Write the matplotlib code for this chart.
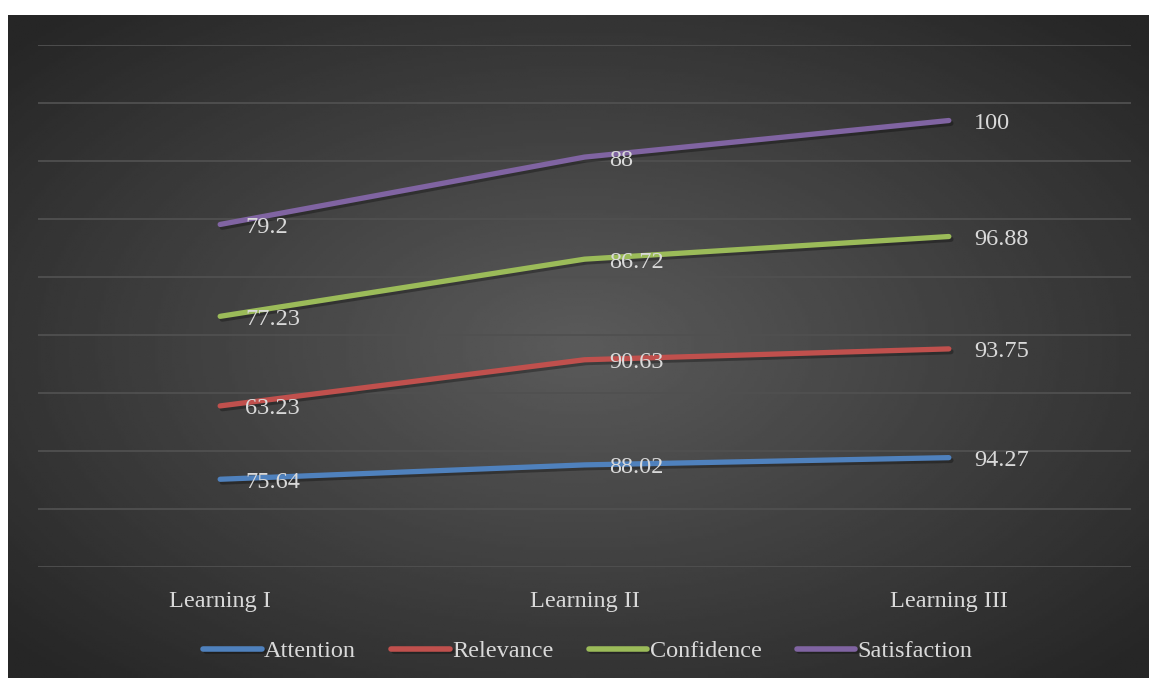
import numpy as np
import matplotlib
matplotlib.use("Agg")
from matplotlib import pyplot as plt
import matplotlib.patheffects as pe

# data
categories = ["Learning I", "Learning II", "Learning III"]
series_names = ["Attention", "Relevance", "Confidence", "Satisfaction"]
attention = [75.64, 88.02, 94.27]
relevance = [63.23, 90.63, 93.75]
confidence = [77.23, 86.72, 96.88]
satisfaction = [79.2, 88, 100]
colors = ["#4F81BD", "#C0504D", "#9BBB59", "#8064A2"]

text_color = "#d9d9d9"
fsize = 17.5
plt.rcParams["font.family"] = ["Liberation Serif", "DejaVu Serif"]

W, H = 1149, 678
fig = plt.figure(figsize=(W / 100, H / 100), dpi=100)
fig.patch.set_facecolor("white")

# background panel with radial gradient
bg = fig.add_axes([8 / W, 0, (W - 8) / W, (H - 15) / H])
bg.axis("off")
gx, gy = np.meshgrid(np.linspace(-1, 1, 400), np.linspace(-1, 1, 240))
r = np.clip(np.sqrt(gx ** 2 + gy ** 2) / 1.35, 0, 1)
shade = 0.355 - (0.355 - 0.15) * r
bg.imshow(shade, cmap="gray", vmin=0, vmax=1, aspect="auto", extent=[0, 1, 0, 1])

# plot area
ax = fig.add_axes([38 / W, (H - 567) / H, 1093 / W, 522 / H])
ax.set_facecolor("none")
for s in ax.spines.values():
    s.set_visible(False)
ax.set_xlim(-0.5, 2.5)
ax.set_ylim(0, 450)
ax.set_yticks(np.arange(0, 451, 50))
ax.yaxis.grid(True, color="#505050", linewidth=1.3)
ax.tick_params(axis="y", left=False, labelleft=False)
ax.tick_params(axis="x", bottom=False, pad=14, labelsize=fsize, labelcolor=text_color)
x = np.arange(len(categories))
ax.set_xticks(x)
ax.set_xticklabels(categories)

values = [attention, relevance, confidence, satisfaction]
base = np.zeros(len(categories))
for name, vals, c in zip(series_names, values, colors):
    top = base + np.array(vals)
    ax.plot(x, top, color=c, linewidth=3.8, solid_capstyle="round", label=name, zorder=3,
            path_effects=[pe.SimpleLineShadow(offset=(1.5, -2), alpha=0.3, shadow_color="black"), pe.Normal()])
    for xi, yi, v in zip(x, top, vals):
        ax.annotate(f"{v:g}", (xi, yi), xytext=(25, -3), textcoords="offset pixels",
                    ha="left", va="center", fontsize=fsize, color=text_color, zorder=4)
    base = top

leg = fig.legend(loc="center", bbox_to_anchor=(588 / W, 1 - 651 / H), ncol=4, frameon=False,
                 fontsize=fsize, labelcolor=text_color, handlelength=2.4, handletextpad=0.1,
                 columnspacing=1.45)
for h in leg.get_lines():
    h.set_linewidth(4)
    h.set_solid_capstyle("round")

fig.savefig("out.png", dpi=100)
